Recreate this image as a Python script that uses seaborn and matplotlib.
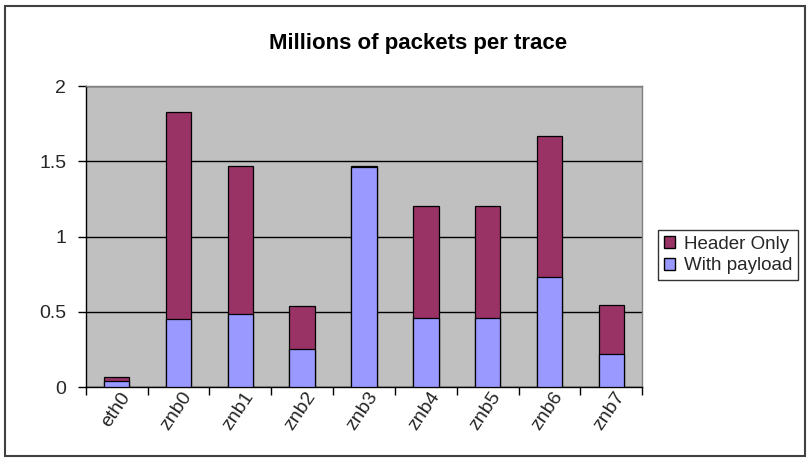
import numpy as np
import pandas as pd
import matplotlib
matplotlib.use('Agg')
import matplotlib.pyplot as plt
import matplotlib.transforms as mtransforms
import seaborn as sns
from matplotlib.patches import Patch, Rectangle

# 數據
traces = ['eth0', 'znb0', 'znb1', 'znb2', 'znb3', 'znb4', 'znb5', 'znb6', 'znb7']
with_payload = [0.044, 0.456, 0.489, 0.252, 1.462, 0.462, 0.462, 0.735, 0.219]
header_only = [0.026, 1.374, 0.977, 0.288, 0.004, 0.743, 0.743, 0.935, 0.328]
y_ticks = [0, 0.5, 1, 1.5, 2]

df = pd.DataFrame({'trace': traces, 'payload': with_payload, 'header': header_only})
df['total'] = df['payload'] + df['header']

sns.set_style('white')
plt.rcParams['font.family'] = ['Liberation Sans', 'DejaVu Sans']

fig = plt.figure(figsize=(8.07, 4.58), dpi=100)
ax = fig.add_axes([85.7 / 807, 1 - 387.3 / 458, (642.3 - 85.7) / 807, (387.3 - 86) / 458])
ax.set_facecolor('#C0C0C0')

# 堆疊柱狀圖：先畫總量，再疊上 payload
sns.barplot(data=df, x='trace', y='total', color='#993366', saturation=1,
            width=0.41, edgecolor='black', linewidth=0.9, ax=ax, zorder=3)
sns.barplot(data=df, x='trace', y='payload', color='#9999FF', saturation=1,
            width=0.41, edgecolor='black', linewidth=0.9, ax=ax, zorder=4)

ax.set_xlim(-0.5, len(traces) - 0.5)
ax.set_ylim(0, 2)
ax.set_yticks(y_ticks)
ax.set_yticklabels(['0', '0.5', '1', '1.5', '2'])
ax.yaxis.grid(True, color='black', linewidth=1.0, zorder=1)
ax.set_axisbelow(True)

# x 軸刻度在類別之間
ax.set_xticks(np.arange(-0.5, len(traces)), minor=True)
ax.tick_params(axis='x', which='major', length=0, pad=6, bottom=True)
ax.tick_params(axis='x', which='minor', length=6, width=1, direction='out',
               color='black', bottom=True)
ax.tick_params(axis='y', length=6, width=1, direction='out', color='black', pad=8, left=True)
ax.tick_params(labelsize=14)
ax.set_xticklabels(traces, rotation=56, ha='right', rotation_mode='anchor', va='center')

# 標籤往右上偏移
offset = mtransforms.ScaledTranslation(10 / 100, 2 / 100, fig.dpi_scale_trans)
for lab in ax.get_xticklabels():
    lab.set_transform(lab.get_transform() + offset)

ax.set_xlabel('')
ax.set_ylabel('')

for side in ['left', 'bottom']:
    ax.spines[side].set_color('black')
    ax.spines[side].set_linewidth(1.0)
for side in ['top', 'right']:
    ax.spines[side].set_color('#808080')
    ax.spines[side].set_linewidth(1.0)

fig.text(418 / 807, 1 - 44 / 458, 'Millions of packets per trace', ha='center', va='center',
         fontsize=16, fontweight='bold', color='black')

handles = [Patch(facecolor='#993366', edgecolor='black', label='Header Only'),
           Patch(facecolor='#9999FF', edgecolor='black', label='With payload')]
leg = fig.legend(handles=handles, loc='upper left', bbox_to_anchor=(658 / 807, 1 - 230 / 458),
                 fontsize=13.5, frameon=True, fancybox=False, edgecolor='black',
                 handlelength=0.6, handleheight=0.6, handletextpad=0.5,
                 borderpad=0.3, labelspacing=0.25, borderaxespad=0)
leg.get_frame().set_linewidth(1.0)

# 圖表外框
fig.patches.append(Rectangle((5 / 807, 2 / 458), 800 / 807, 450 / 458, transform=fig.transFigure,
                             fill=False, edgecolor='#404040', linewidth=1.5))

fig.savefig('out.png', dpi=100)
